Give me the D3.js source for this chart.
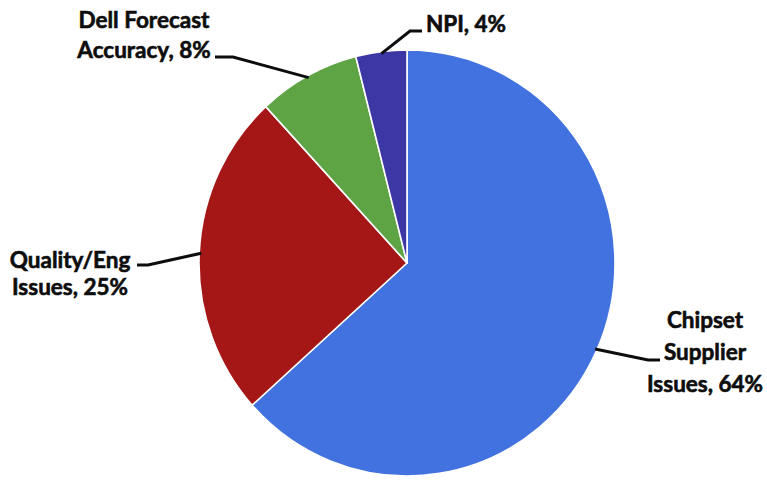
<!DOCTYPE html>
<html>
<head>
<meta charset="utf-8">
<script src="https://cdn.jsdelivr.net/npm/d3@7/dist/d3.min.js"></script>
<style>
  html, body { margin: 0; padding: 0; background: #fff; }
  svg { display: block; }
  .lbl { font-family: Lato, "Open Sans", sans-serif; font-weight: 700; font-size: 22.5px; fill: #0d0d0d;
         stroke: #0d0d0d; stroke-width: 0.6px; paint-order: stroke; }
</style>
</head>
<body>
<svg id="chart" width="767" height="481"></svg>
<script>
// Root causes of supply shortfall, share of total
const categories = ["Chipset Supplier Issues", "Quality/Eng Issues", "Dell Forecast Accuracy", "NPI"];
const values = [64, 25, 8, 4];
const labelLines = [
  ["Chipset", "Supplier", "Issues, 64%"],
  ["Quality/Eng", "Issues, 25%"],
  ["Dell Forecast", "Accuracy, 8%"],
  ["NPI, 4%"]
];
const colors = ["#4272DF", "#A51616", "#5EA344", "#3D37A6"];

// Label placement: text centre x, first baseline, line step, and leader elbow/end points
const labelLayout = [
  { x: 705, y: 328, step: 32, elbow: [648, 360], end: [660, 360] },
  { x: 70,  y: 268, step: 27, elbow: [148, 265], end: [137, 265] },
  { x: 144, y: 28,  step: 30, elbow: [233, 57],  end: [215, 57] },
  { x: 466, y: 32,  step: 0,  elbow: [410, 31],  end: [422, 31] }
];

const cx = 407, cy = 263, r = 208, yStretch = 1.024;

const svg = d3.select("#chart");

const pie = d3.pie().sort(null).value(d => d);
const arcs = pie(values);
const arc = d3.arc().innerRadius(0).outerRadius(r);

const g = svg.append("g")
  .attr("transform", `translate(${cx},${cy}) scale(1,${yStretch})`);

g.selectAll("path.slice")
  .data(arcs)
  .join("path")
  .attr("class", "slice")
  .attr("d", arc)
  .attr("fill", (d, i) => colors[i])
  .attr("stroke", "#fff")
  .attr("stroke-width", 1.6)
  .attr("stroke-linejoin", "round");

// Leader lines start on the rim at each slice's mid-angle
const leaders = arcs.map((d, i) => {
  const a = (d.startAngle + d.endAngle) / 2;
  const rr = r - 2;
  const sx = cx + rr * Math.sin(a);
  const sy = cy - rr * Math.cos(a) * yStretch;
  const L = labelLayout[i];
  return [[sx, sy], L.elbow, L.end];
});

svg.selectAll("path.leader")
  .data(leaders)
  .join("path")
  .attr("class", "leader")
  .attr("d", d3.line())
  .attr("fill", "none")
  .attr("stroke", "#0d0d0d")
  .attr("stroke-width", 3);

const labels = svg.selectAll("text.lbl")
  .data(labelLines)
  .join("text")
  .attr("class", "lbl")
  .attr("text-anchor", "middle");

labels.each(function (lines, i) {
  const L = labelLayout[i];
  d3.select(this).selectAll("tspan")
    .data(lines)
    .join("tspan")
    .attr("x", L.x)
    .attr("y", (t, j) => L.y + j * L.step)
    .text(t => t);
});
</script>
</body>
</html>
